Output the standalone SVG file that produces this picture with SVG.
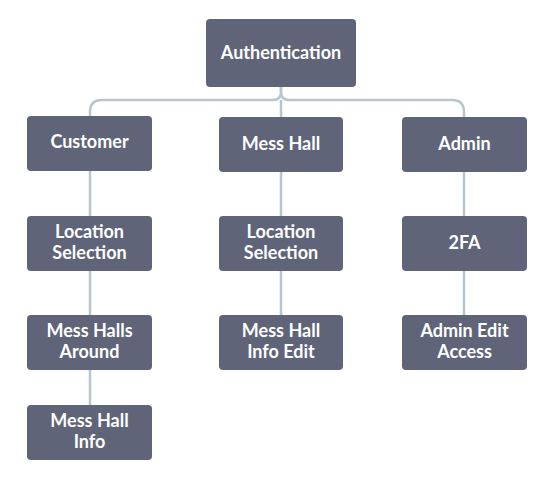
<svg xmlns="http://www.w3.org/2000/svg" width="548" height="478" viewBox="0 0 548 478">
<style>
.box{fill:#5f6479;}
.lbl{fill:#ffffff;font-family:Lato,"Open Sans",sans-serif;font-weight:bold;font-size:18px;text-anchor:middle;}
.ln{fill:none;stroke:#b7c6cc;stroke-width:2.5;}
</style>
<rect width="548" height="478" fill="#ffffff"/>
<g id="connectors">
<path class="ln" d="M281,87 V92 Q281,100 273,100 H102 Q90,100 90,112 V116"/>
<path class="ln" d="M281,87 V92 Q281,100 289,100 H452 Q464,100 464,112 V117"/>
<path class="ln" d="M281,100 V117"/>
<path class="ln" d="M90,171 V405"/>
<path class="ln" d="M281,172 V315"/>
<path class="ln" d="M464,172 V315"/>
</g>
<g id="authentication"><rect class="box" x="206" y="19" width="150" height="68" rx="4"/><text class="lbl" x="281" y="59">Authentication</text></g>
<g id="customer"><rect class="box" x="27" y="116" width="125" height="55" rx="4"/><text class="lbl" x="89.5" y="148">Customer</text></g>
<g id="messhall"><rect class="box" x="219" y="117" width="124" height="55" rx="4"/><text class="lbl" x="281" y="150">Mess Hall</text></g>
<g id="admin"><rect class="box" x="402" y="117" width="125" height="55" rx="4"/><text class="lbl" x="464.5" y="150">Admin</text></g>
<g id="loc1"><rect class="box" x="27" y="216" width="125" height="55" rx="4"/><text class="lbl" x="89.5" y="238">Location</text><text class="lbl" x="89.5" y="259">Selection</text></g>
<g id="loc2"><rect class="box" x="219" y="216" width="124" height="55" rx="4"/><text class="lbl" x="281" y="238">Location</text><text class="lbl" x="281" y="259">Selection</text></g>
<g id="twofa"><rect class="box" x="402" y="216" width="125" height="55" rx="4"/><text class="lbl" x="464.5" y="249">2FA</text></g>
<g id="around"><rect class="box" x="27" y="315" width="125" height="55" rx="4"/><text class="lbl" x="89.5" y="337">Mess Halls</text><text class="lbl" x="89.5" y="358">Around</text></g>
<g id="infoedit"><rect class="box" x="219" y="315" width="124" height="55" rx="4"/><text class="lbl" x="281" y="337">Mess Hall</text><text class="lbl" x="281" y="358">Info Edit</text></g>
<g id="adminedit"><rect class="box" x="402" y="315" width="125" height="55" rx="4"/><text class="lbl" x="464.5" y="337">Admin Edit</text><text class="lbl" x="464.5" y="358">Access</text></g>
<g id="info"><rect class="box" x="27" y="405" width="125" height="55" rx="4"/><text class="lbl" x="89.5" y="427">Mess Hall</text><text class="lbl" x="89.5" y="448">Info</text></g>
</svg>
